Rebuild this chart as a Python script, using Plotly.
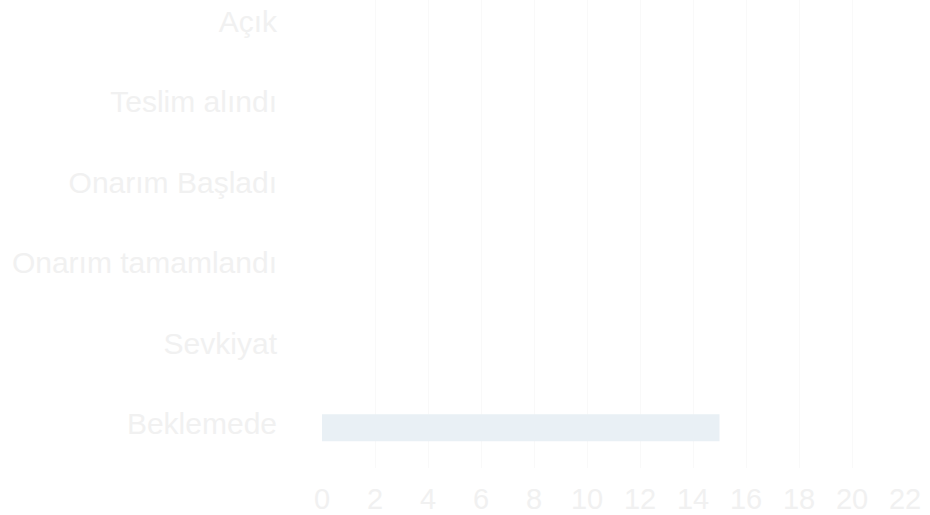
import plotly.graph_objects as go

categories = ["Beklemede", "Sevkiyat", "Onarım tamamlandı", "Onarım Başladı", "Teslim alındı", "Açık"]
counts = [15, 0, 0, 0, 0, 0]
x_ticks = list(range(0, 23, 2))

fig = go.Figure()
fig.add_trace(go.Bar(
    y=categories,
    x=counts,
    orientation="h",
    marker=dict(color="#e9f0f5", line=dict(width=0)),
    width=0.336,
    hoverinfo="skip",
))

font_color = "#f1f1f1"
fig.update_layout(
    width=930,
    height=515,
    margin=dict(l=322, r=25, t=0, b=47, autoexpand=False),
    paper_bgcolor="white",
    plot_bgcolor="white",
    showlegend=False,
    font=dict(family="Liberation Sans, Arial, sans-serif", size=30, color=font_color),
    xaxis=dict(
        range=[0, 22],
        tickvals=x_ticks,
        ticktext=[str(v) for v in x_ticks],
        showgrid=True,
        gridcolor="#f9f9f9",
        gridwidth=1,
        zeroline=False,
        showline=False,
        ticks="",
        ticklabelstandoff=11,
        tickfont=dict(size=29, color=font_color),
        automargin=False,
    ),
    yaxis=dict(
        categoryorder="array",
        categoryarray=categories,
        range=[-0.5, 5.317],
        showgrid=False,
        zeroline=False,
        showline=False,
        ticks="",
        ticklabelstandoff=44,
        ticklabelshift=-4,
        tickfont=dict(size=30, color=font_color),
        automargin=False,
    ),
)

fig.write_html(
    "out.html",
    config={"displayModeBar": False},
    post_script="document.body.style.margin='0';document.body.style.overflow='hidden';",
)
